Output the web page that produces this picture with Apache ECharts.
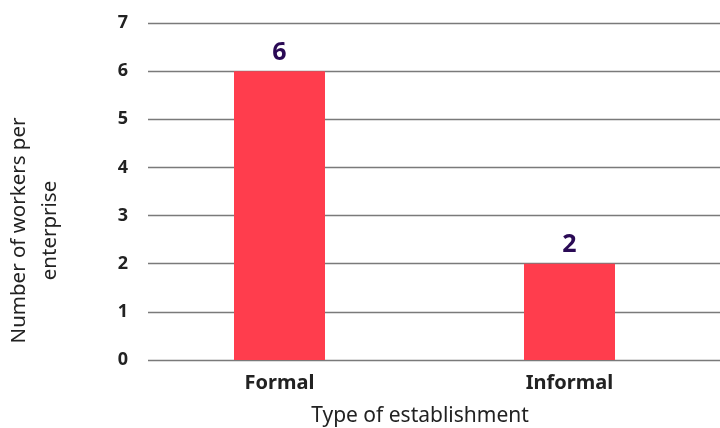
<!DOCTYPE html>
<html><head><meta charset="utf-8">
<script src="https://cdn.jsdelivr.net/npm/echarts@6/dist/echarts.min.js"></script>
<style>html,body{margin:0;padding:0;background:#fff}#c{width:720px;height:428px}</style>
</head><body><div id="c"></div>
<script>
var categories = ['Formal', 'Informal'];
var values = [6, 2];
var yTicks = [0, 1, 2, 3, 4, 5, 6, 7];

var chart = echarts.init(document.getElementById('c'));
var font = 'Noto Sans';
chart.setOption({
  animation: false,
  grid: [
    {left: 148, right: 0, top: 23, bottom: 68, outerBoundsMode: 'none', containLabel: false},
    {left: 134.5, right: 5.5, top: 23, bottom: 68, outerBoundsMode: 'none', containLabel: false}
  ],
  xAxis: [
    {gridIndex: 0, type: 'value', show: false, min: 0, max: 1},
    {gridIndex: 1, type: 'category', data: categories,
     axisLine: {show: false}, axisTick: {show: false},
     axisLabel: {margin: 13, color: '#222', fontSize: 20, fontWeight: 'bold', fontFamily: font},
     name: 'Type of establishment', nameLocation: 'middle', nameGap: 46,
     nameTextStyle: {color: '#222', fontSize: 21, fontFamily: font, padding: [0, 9, 0, 0]}}
  ],
  yAxis: [
    {gridIndex: 0, type: 'value', min: yTicks[0], max: yTicks[yTicks.length - 1], interval: 1,
     axisLine: {show: false}, axisTick: {show: false},
     axisLabel: {margin: 20, color: '#222', fontSize: 18, fontWeight: 'bold', fontFamily: font},
     splitLine: {lineStyle: {color: '#7a7a7a', width: 1.3}},
     name: 'Number of workers per\nenterprise', nameLocation: 'middle', nameGap: 82, nameRotate: 90,
     nameTextStyle: {color: '#222', fontSize: 20.5, fontFamily: font, lineHeight: 31, align: 'center', padding: [0, 78, 0, 0]}},
    {gridIndex: 1, type: 'value', min: yTicks[0], max: yTicks[yTicks.length - 1], interval: 1, show: false,
     splitLine: {show: false}}
  ],
  series: [{
    type: 'bar', xAxisIndex: 1, yAxisIndex: 1, data: values, barWidth: 91,
    itemStyle: {color: '#FF3D4D'},
    label: {show: true, position: 'top', distance: 6, color: '#2a0a55', fontSize: 25, fontWeight: 'bold', fontFamily: font}
  }]
});
</script></body></html>
